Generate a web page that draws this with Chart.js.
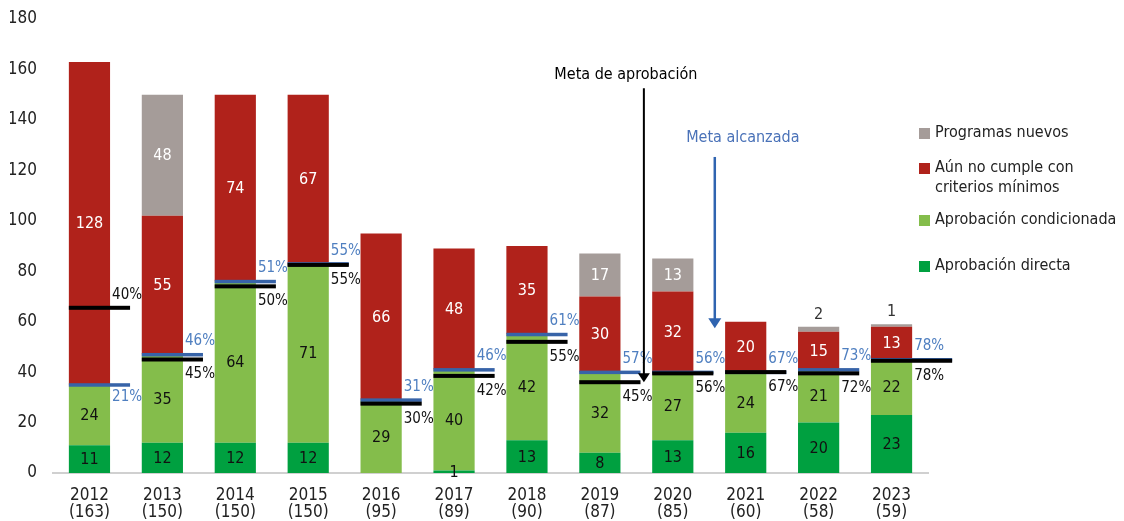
<!DOCTYPE html>
<html><head><meta charset="utf-8">
<script src="https://cdn.jsdelivr.net/npm/chart.js@4"></script>
<style>
html,body{margin:0;padding:0;background:#fff;}
#wrap{position:relative;width:1124px;height:521px;overflow:hidden;}
canvas{position:absolute;left:0;top:0;}
.legend{position:absolute;left:919px;top:0;font-family:"Liberation Sans Narrow","DejaVu Sans Condensed",sans-serif;font-size:16px;color:#222;}
.item{position:absolute;left:0;white-space:nowrap;line-height:20px;}
.sw{position:absolute;left:0;width:11px;height:11px;}
.tx{position:absolute;left:16px;top:0;}
</style></head><body>
<div id="wrap"><canvas id="c" width="1124" height="521"></canvas>
<div class="legend">
 <div class="item" style="top:122px"><span class="sw" style="top:6px;background:#a59c99"></span><span class="tx">Programas nuevos</span></div>
 <div class="item" style="top:157px"><span class="sw" style="top:6px;background:#b0221b"></span><span class="tx">Aún no cumple con<br>criterios mínimos</span></div>
 <div class="item" style="top:209px"><span class="sw" style="top:6px;background:#84bd4b"></span><span class="tx">Aprobación condicionada</span></div>
 <div class="item" style="top:255px"><span class="sw" style="top:6px;background:#00a040"></span><span class="tx">Aprobación directa</span></div>
</div></div>
<script>
const years = ['2012','2013','2014','2015','2016','2017','2018','2019','2020','2021','2022','2023'];
const totals = ['(163)','(150)','(150)','(150)','(95)','(89)','(90)','(87)','(85)','(60)','(58)','(59)'];
const directa = [11,12,12,12,0,1,13,8,13,16,20,23];
const condicionada = [24,35,64,71,29,40,42,32,27,24,21,22];
const noCumple = [128,55,74,67,66,48,35,30,32,20,15,13];
const nuevos = [0,48,0,0,0,0,0,17,13,0,2,1];
const alcanzadaVal = [35,47,76,83,29,41,55,40,40,40,41,45];
const alcanzadaPct = ['21%','46%','51%','55%','31%','46%','61%','57%','56%','67%','73%','78%'];
const metaVal = [65.5,45,74,82.5,27.5,38.5,52,36,39.5,40,39.5,44.5];
const metaPct = ['40%','45%','50%','55%','30%','42%','55%','45%','56%','67%','72%','78%'];

const FONT = '"Liberation Sans Narrow","DejaVu Sans Condensed",sans-serif';
const labels = years.map((y,i)=>[y,totals[i]]);

const textColors = ['#111','#111','#fff','#fff'];

const overlay = {
  id:'overlay',
  afterDatasetsDraw(chart){
    const ctx = chart.ctx, xs = chart.scales.x, ys = chart.scales.y;
    const meta0 = chart.getDatasetMeta(0);
    ctx.save();
    ctx.font = '16px ' + FONT;
    ctx.textAlign = 'center'; ctx.textBaseline = 'middle';
    chart.data.datasets.forEach((ds,di)=>{
      const m = chart.getDatasetMeta(di);
      m.data.forEach((el,i)=>{
        const v = ds.data[i];
        if(!v) return;
        if(di===3 && v<=3){
          ctx.fillStyle = '#333';
          ctx.fillText(String(v), el.x, el.y-12);
        } else {
          ctx.fillStyle = textColors[di];
          ctx.fillText(String(v), el.x, (el.y+el.base)/2+1);
        }
      });
    });
    meta0.data.forEach((el,i)=>{
      const w = el.width;
      const x0 = el.x - w/2;
      const x1 = el.x + w/2 + (i===years.length-1 ? 40 : 20);
      const yb = ys.getPixelForValue(alcanzadaVal[i]);
      const yk = ys.getPixelForValue(metaVal[i]);
      ctx.fillStyle = '#3763a8';
      ctx.fillRect(x0, yb-1.5, x1-x0, 3.5);
      ctx.fillStyle = '#000';
      ctx.fillRect(x0, yk-2, x1-x0, 4);
      ctx.font = '15px ' + FONT;
      ctx.textAlign = 'left'; ctx.textBaseline = 'middle';
      const lx = el.x + w/2 + 2;
      const blueAbove = alcanzadaVal[i] >= metaVal[i];
      ctx.fillStyle = '#4f7fc0';
      ctx.fillText(alcanzadaPct[i], lx, blueAbove ? yb-13 : yb+12);
      ctx.fillStyle = '#111';
      ctx.fillText(metaPct[i], lx, blueAbove ? yk+15 : yk-13);
    });
    const xa = xs.getPixelForValue(7) + 44;
    const ya0 = ys.getPixelForValue(152.5), ya1 = ys.getPixelForValue(36);
    ctx.strokeStyle = '#000'; ctx.lineWidth = 2;
    ctx.beginPath(); ctx.moveTo(xa, ya0); ctx.lineTo(xa, ya1-7); ctx.stroke();
    ctx.fillStyle = '#000';
    ctx.beginPath(); ctx.moveTo(xa-6, ya1-9); ctx.lineTo(xa+6, ya1-9); ctx.lineTo(xa, ya1); ctx.closePath(); ctx.fill();
    ctx.font = '16px ' + FONT; ctx.textAlign = 'center'; ctx.textBaseline='middle';
    ctx.fillText('Meta de aprobación', xs.getPixelForValue(7)+26, ys.getPixelForValue(158));

    const xb = xs.getPixelForValue(8) + 42;
    const yb0 = ys.getPixelForValue(125.3), yb1 = ys.getPixelForValue(57.4);
    ctx.strokeStyle = '#2f64b0'; ctx.lineWidth = 2.5;
    ctx.beginPath(); ctx.moveTo(xb, yb0); ctx.lineTo(xb, yb1-8); ctx.stroke();
    ctx.fillStyle = '#2f64b0';
    ctx.beginPath(); ctx.moveTo(xb-6.5, yb1-10); ctx.lineTo(xb+6.5, yb1-10); ctx.lineTo(xb, yb1); ctx.closePath(); ctx.fill();
    ctx.fillStyle = '#4a72b8';
    ctx.fillText('Meta alcanzada', xs.getPixelForValue(8)+70, ys.getPixelForValue(132.8));
    ctx.restore();
  }
};

new Chart(document.getElementById('c'), {
  type:'bar',
  data:{
    labels: labels,
    datasets:[
      {label:'Aprobación directa', data:directa, backgroundColor:'#00a040'},
      {label:'Aprobación condicionada', data:condicionada, backgroundColor:'#84bd4b'},
      {label:'Aún no cumple con criterios mínimos', data:noCumple, backgroundColor:'#b0221b'},
      {label:'Programas nuevos', data:nuevos, backgroundColor:'#a59c99'}
    ]
  },
  options:{
    responsive:false, devicePixelRatio:1, animation:false,
    layout:{padding:{left:10,right:196,top:19,bottom:0}},
    datasets:{bar:{categoryPercentage:0.565, barPercentage:1}},
    plugins:{legend:{display:false}, tooltip:{enabled:false}},
    scales:{
      x:{stacked:true, grid:{display:false, drawTicks:false}, border:{color:'#d0d0d0', width:2},
         ticks:{font:{family:FONT,size:17,lineHeight:1.0}, color:'#222', padding:14},
         afterFit(s){ s.height = 48; }},
      y:{stacked:true, min:0, max:180, grid:{display:false, drawTicks:false}, border:{display:false},
         ticks:{stepSize:20, font:{family:FONT,size:17}, color:'#222', padding:16},
         afterFit(s){ s.width = 43; s.paddingTop = 0; s.paddingBottom = 0; }}
    }
  },
  plugins:[overlay]
});
</script>
</body></html>
